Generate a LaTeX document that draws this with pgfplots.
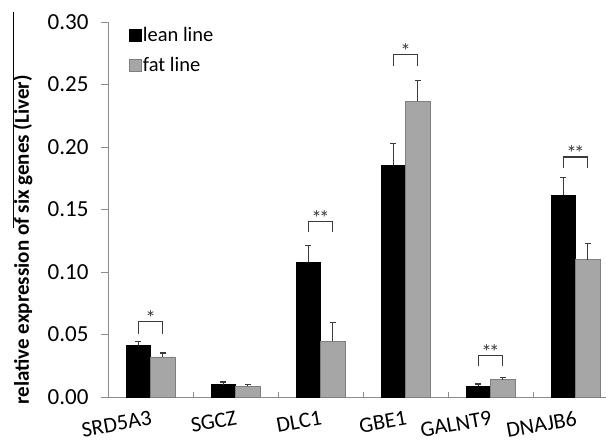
\documentclass[border=0pt]{standalone}
\usepackage{fontspec}
\setmainfont{Carlito}
\usepackage{pgfplots}
\usepackage{pgfplotstable}
\pgfplotsset{compat=1.18}
\usetikzlibrary{calc}
\definecolor{fatgray}{HTML}{A6A6A6}
\definecolor{fatedge}{HTML}{7F7F7F}
\definecolor{axgray}{HTML}{8C8C8C}
\definecolor{errc}{HTML}{3A3A3A}

% x positions: category index -0.144 (lean) / +0.144 (fat)
\pgfplotstableread{
xl xf lean leanerr fat faterr
-0.144 0.144 0.0414 0.0032 0.0320 0.0032
0.856 1.144 0.0099 0.0021 0.0085 0.0016
1.856 2.144 0.1076 0.0138 0.0446 0.0152
2.856 3.144 0.1855 0.0173 0.2367 0.0166
3.856 4.144 0.0085 0.0019 0.0139 0.0016
4.856 5.144 0.1612 0.0144 0.1097 0.0131
}\datatable

\begin{document}
\begin{tikzpicture}
\begin{axis}[
  name=ax,
  scale only axis,
  width=498pt, height=375pt,
  xmin=-0.5, xmax=5.359,
  ymin=0, ymax=0.30,
  clip=false,
  axis x line*=bottom,
  axis y line*=left,
  axis line style={axgray, line width=0.9pt},
  xtick={0,1,2,3,4,5},
  xticklabels={SRD5A3,SGCZ,DLC1,GBE1,GALNT9,DNAJB6},
  xtick style={draw=none},
  xticklabel style={rotate=10, anchor=north east, font=\fontsize{22}{26}\selectfont, yshift=-3pt, xshift=2pt},
  ytick={0,0.05,0.10,0.15,0.20,0.25,0.30},
  tick align=outside,
  major tick length=7pt,
  ytick style={axgray, line width=0.9pt},
  yticklabel style={font=\fontsize{23}{27}\selectfont, xshift=-9pt},
  /pgf/number format/.cd, fixed, fixed zerofill, precision=2, assume math mode=true,
  /pgfplots/.cd,
  ylabel={\bfseries relative expression of six genes (Liver)},
  ylabel style={font=\fontsize{21}{25}\selectfont, at={(rel axis cs:-0.1446,0.419)}, anchor=south},
  legend style={at={(0.042,0.988)}, anchor=north west, draw=none, fill=none,
    font=\fontsize{20.5}{24}\selectfont, inner sep=0pt, row sep=12pt,
    nodes={inner sep=1pt}},
  legend cell align=left,
  legend image code/.code={\draw[#1] (0pt,-6pt) rectangle (12pt,6pt);},
]
\addplot[ybar, bar width=0.288, bar shift=0, fill=black, draw=black,
  error bars/.cd, y dir=plus, y explicit,
  error bar style={errc, line width=1.2pt},
  error mark options={rotate=90, mark size=3pt, errc, line width=1.2pt}]
  table[x=xl, y=lean, y error=leanerr] {\datatable};
\addlegendentry{lean line}
\addplot[ybar, bar width=0.288, bar shift=0, fill=fatgray, draw=fatedge, line width=0.8pt,
  error bars/.cd, y dir=plus, y explicit,
  error bar style={errc, line width=1.2pt},
  error mark options={rotate=90, mark size=3pt, errc, line width=1.2pt}]
  table[x=xf, y=fat, y error=faterr] {\datatable};
\addlegendentry{fat line}

% category separators
\addplot[ycomb, axgray, line width=0.9pt, mark=none, forget plot]
  coordinates {(0.5,0.004) (1.5,0.004) (2.5,0.004) (3.5,0.004) (4.5,0.004)};

% significance brackets
\addplot[errc, line width=1.1pt, mark=none, forget plot] coordinates {(-0.144,0.0507) (-0.144,0.0606) (0.144,0.0606) (0.144,0.0507)};
\addplot[errc, line width=1.1pt, mark=none, forget plot] coordinates {(1.856,0.132) (1.856,0.1406) (2.144,0.1406) (2.144,0.132)};
\addplot[errc, line width=1.1pt, mark=none, forget plot] coordinates {(2.856,0.265) (2.856,0.274) (3.144,0.274) (3.144,0.265)};
\addplot[errc, line width=1.1pt, mark=none, forget plot] coordinates {(3.856,0.0246) (3.856,0.0334) (4.144,0.0334) (4.144,0.0246)};
\addplot[errc, line width=1.1pt, mark=none, forget plot] coordinates {(4.856,0.183) (4.856,0.192) (5.144,0.192) (5.144,0.183)};

\node[anchor=base, inner sep=0pt, yshift=-4pt, font=\fontsize{21}{24}\selectfont, text=errc] at (axis cs:0,0.0606) {*};
\node[anchor=base, inner sep=0pt, yshift=-4pt, font=\fontsize{21}{24}\selectfont, text=errc] at (axis cs:2,0.1406) {*\kern-2.5pt*};
\node[anchor=base, inner sep=0pt, yshift=-4pt, font=\fontsize{21}{24}\selectfont, text=errc] at (axis cs:3,0.274) {*};
\node[anchor=base, inner sep=0pt, yshift=-4pt, font=\fontsize{21}{24}\selectfont, text=errc] at (axis cs:4,0.0334) {*\kern-2.5pt*};
\node[anchor=base, inner sep=0pt, yshift=-4pt, font=\fontsize{21}{24}\selectfont, text=errc] at (axis cs:5,0.192) {*\kern-2.5pt*};
\end{axis}
\draw[black, line width=0.9pt] ($(ax.south west)+(-94.5pt,169pt)$) -- ++(0,216pt);
\pgfresetboundingbox
\path[use as bounding box] ($(ax.south west)+(-108pt,-46pt)$) rectangle ($(ax.north east)+(0pt,22pt)$);
\end{tikzpicture}
\end{document}
